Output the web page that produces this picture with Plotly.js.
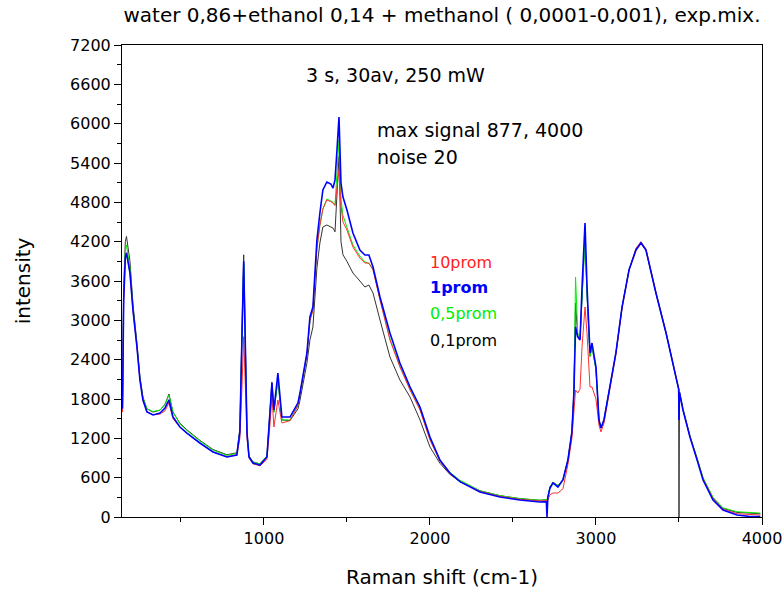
<!DOCTYPE html>
<html>
<head>
<meta charset="utf-8">
<script src="https://cdn.plot.ly/plotly-3.0.1.min.js"></script>
<style>html,body{margin:0;padding:0;background:#fff;}#chart{width:783px;height:596px;}</style>
</head>
<body>
<div id="chart"></div>
<script>
// Raman shift (cm-1)
const shift = [148,155,165,172,193,211,235,253,271,295,332,374,404,428,452,494,536,614,693,777,837,855,868,878,888,898,910,934,976,1018,1036,1048,1060,1084,1108,1157,1205,1217,1259,1277,1295,1319,1337,1355,1379,1403,1416,1428,1440,1452,1464,1476,1500,1536,1578,1608,1632,1657,1699,1759,1819,1880,1940,2000,2060,2120,2181,2301,2422,2542,2663,2701,2705,2710,2723,2741,2771,2801,2831,2855,2867,2877,2890,2904,2916,2934,2946,2964,2976,3000,3018,3030,3048,3078,3120,3157,3199,3241,3271,3301,3361,3422,3482,3494,3498,3500,3503,3524,3566,3609,3645,3705,3765,3849,3920,3990];

const prom1 = [1650,3300,3950,4030,3720,3157,2593,2090,1785,1602,1556,1586,1663,1785,1525,1373,1281,1129,991,915,946,1300,2800,3900,2600,1281,915,824,793,915,1586,2044,1632,2197,1525,1525,1739,1891,2502,3051,3203,4225,4637,4988,5110,5080,5018,5141,5600,6100,5095,4881,4683,4332,4073,3997,3997,3813,3356,2807,2349,1983,1678,1220,869,671,540,381,305,259,229,235,0,300,442,519,458,564,869,1300,1900,2898,2746,2700,3508,4485,3508,2502,2654,2288,1480,1358,1480,1891,2502,3203,3768,4073,4180,4073,3417,2807,2090,1983,1950,1480,1900,1632,1220,869,564,259,107,31,10,5];

const prom10 = [1600,3300,3950,4030,3720,3150,2590,2090,1790,1610,1560,1570,1620,1739,1500,1370,1280,1130,995,920,950,1200,2000,2750,2000,1200,900,810,780,880,1400,1830,1373,1785,1434,1470,1700,1860,2480,3000,3150,4100,4450,4700,4836,4810,4790,4750,5000,5300,4750,4500,4378,4119,3950,3874,3874,3768,3310,2700,2288,1937,1632,1174,850,660,540,390,315,270,245,245,250,260,340,366,366,430,800,1200,1600,1937,1891,1950,2600,3203,2800,1983,1983,1800,1400,1297,1430,1860,2480,3190,3768,4100,4200,4090,3430,2820,2100,1990,1960,1940,1910,1640,1230,880,580,280,120,50,40,30];

const prom05 = [1650,3400,4050,4150,3800,3200,2620,2120,1820,1650,1610,1630,1720,1860,1600,1420,1320,1160,1020,940,970,1300,2800,3850,2600,1281,930,840,810,930,1600,1950,1600,2100,1480,1480,1700,1870,2480,3000,3150,4100,4450,4700,4850,4820,4800,4760,5200,5750,4850,4600,4420,4150,3980,3890,3870,3780,3320,2720,2300,1950,1640,1190,870,680,560,400,325,280,255,260,265,300,460,530,480,570,870,1300,1900,3661,2800,2750,3400,4200,3400,2450,2600,2250,1480,1358,1480,1891,2502,3203,3768,4090,4190,4080,3420,2810,2095,1990,1960,1940,1910,1650,1240,900,600,300,140,80,70,60];

const prom01 = [1700,3500,4200,4280,3900,3250,2650,2140,1830,1650,1600,1630,1720,1876,1600,1430,1330,1170,1030,950,980,1350,2900,4000,2700,1300,930,840,810,930,1600,2060,1600,2100,1480,1470,1650,1780,2350,2700,2898,3800,4180,4424,4454,4430,4408,4350,5000,5500,4200,4000,3900,3722,3600,3508,3538,3417,3005,2441,2090,1830,1480,1068,820,650,540,400,325,280,255,260,265,300,460,530,480,570,870,1300,1900,3264,2760,2720,3400,4300,3400,2450,2600,2250,1480,1358,1480,1891,2502,3203,3768,4080,4180,4070,3417,2807,2090,1983,1950,0,1900,1640,1230,890,590,290,130,70,60,50];

const seriesNames = ['0,1prom','0,5prom','10prom','1prom'];
const seriesColors = ['#333333','#00ee00','#ff3030','#0000ff'];
const seriesWidths = [1, 1, 1, 1.6];
const seriesValues = [prom01, prom05, prom10, prom1];

const titleText = 'water 0,86+ethanol 0,14 + methanol ( 0,0001-0,001), exp.mix.';
const legendLabels = ['10prom','1prom','0,5prom','0,1prom'];
const legendColors = ['#ff2020','#0000ff','#00ee00','#000000'];

const traces = seriesValues.map((v,i)=>({
  x: shift, y: v, type:'scatter', mode:'lines', name: seriesNames[i],
  line:{color: seriesColors[i], width: seriesWidths[i]}, showlegend:false
}));

const F = 'DejaVu Sans, Verdana, sans-serif';
const annotations = [
  {text:'3 s, 30av, 250 mW', x:0.427, y:0.936, xanchor:'center', yanchor:'middle', font:{size:19,color:'#000',family:F}},
  {text:'max signal 877, 4000', x:0.395, y:0.82, xanchor:'left', yanchor:'middle', font:{size:19,color:'#000',family:F}},
  {text:'noise 20', x:0.395, y:0.763, xanchor:'left', yanchor:'middle', font:{size:19,color:'#000',family:F}}
];
const legY = [0.54,0.486,0.432,0.375];
legendLabels.forEach((t,i)=>{
  annotations.push({text: i===1 ? '<b>'+t+'</b>' : t, x:0.478, y:legY[i], xanchor:'left', yanchor:'middle', font:{size:16,color:legendColors[i],family:F}});
});
annotations.forEach(a=>{a.xref='paper'; a.yref='paper'; a.showarrow=false;});

const layout = {
  width:783, height:596,
  margin:{l:122, r:21, t:45, b:79},
  paper_bgcolor:'#fff', plot_bgcolor:'#fff',
  font:{family:F, color:'#000', size:16},
  title:{text:titleText, x:0.5, xref:'paper', y:0.975, yanchor:'middle', font:{size:20,family:F,color:'#000'}},
  xaxis:{range:[145,4000], tick0:0, dtick:1000, ticks:'outside', ticklen:7, tickwidth:1, tickcolor:'#000',
    showline:true, linecolor:'#000', linewidth:1, mirror:true, showgrid:false, zeroline:false,
    minor:{dtick:500, ticks:'outside', ticklen:4, tickcolor:'#000', showgrid:false},
    tickfont:{size:16,family:F}, title:{text:'Raman shift (cm-1)', font:{size:20,family:F}, standoff:22}},
  yaxis:{range:[0,7200], tick0:0, dtick:600, ticks:'outside', ticklen:7, tickwidth:1, tickcolor:'#000',
    showline:true, linecolor:'#000', linewidth:1, mirror:true, showgrid:false, zeroline:false,
    minor:{dtick:300, ticks:'outside', ticklen:4, tickcolor:'#000', showgrid:false},
    tickfont:{size:16,family:F}, title:{text:'intensity', font:{size:20,family:F}, standoff:34}},
  annotations: annotations
};
Plotly.newPlot('chart', traces, layout, {displayModeBar:false, staticPlot:true});
</script>
</body>
</html>
